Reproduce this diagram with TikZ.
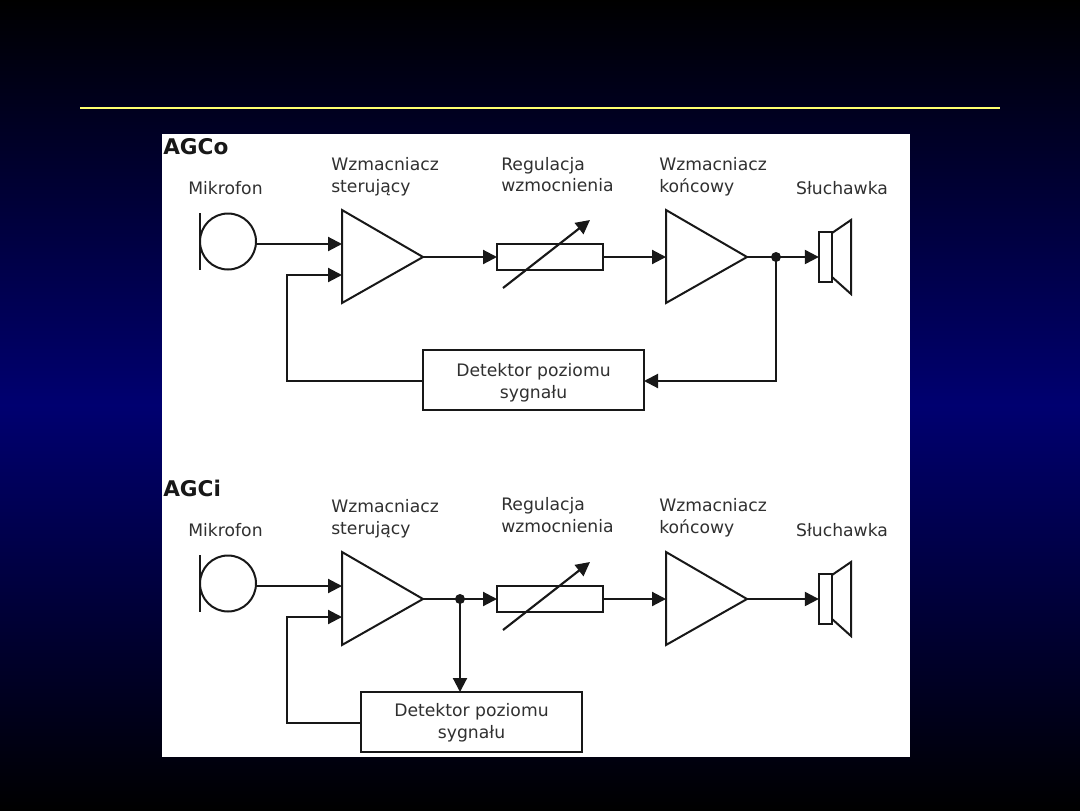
\documentclass[tikz,border=0pt]{standalone}
\usepackage{fontspec}
\setmainfont{DejaVu Sans}
\usetikzlibrary{arrows.meta}
\definecolor{ink}{HTML}{181818}
\definecolor{labelink}{HTML}{303030}
\definecolor{deepnavy}{HTML}{000070}
\definecolor{rulecolor}{HTML}{FFFF6E}
\tikzset{
  wire/.style={draw=ink,line width=1.6pt},
  feed/.style={wire,-{Triangle[length=10.5pt,width=10.5pt]}},
  part/.style={draw=ink,line width=1.5pt,fill=white,inner sep=0pt,outer sep=0pt},
  blockbox/.style={part},
  caption/.style={align=left,inner sep=0pt,anchor=west,font=\fontsize{12.9}{16.2}\selectfont,text=labelink},
  heading/.style={inner sep=0pt,anchor=west,font=\bfseries\fontsize{16.2}{18}\selectfont,text=ink},
  junction/.style={circle,fill=ink,minimum size=7.5pt,inner sep=0pt}
}
\begin{document}
\begin{tikzpicture}[x=0.75pt,y=-0.75pt]
\useasboundingbox (0,0) rectangle (1080,810);
\shade[top color=black,bottom color=black,middle color=deepnavy] (0,0) rectangle (1080,810);
\coordinate (ruleL) at (80,107.5);
\coordinate (ruleR) at (1000,107.5);
\draw[rulecolor,line width=1.5pt] (ruleL) -- (ruleR);
\fill[white] (162,134) rectangle (910,757);

% upper circuit: detector fed from the output stage
\node[heading] (headO) at (163,147) {AGCo};
\node[caption,anchor=center] (micO) at (225.5,188) {Mikrofon};
\node[caption] (preO) at (331,177) {Wzmacniacz\\sterujący};
\node[caption] (regO) at (501,174.5) {Regulacja\\wzmocnienia};
\node[caption] (endO) at (659,176.5) {Wzmacniacz\\końcowy};
\node[caption,anchor=center] (spkO) at (842,188) {Słuchawka};

\node[part,circle,minimum size=42pt] (capO) at (228,241.5) {};
\coordinate (barTopO) at (200,213);
\coordinate (barBotO) at (200,270);
\draw[wire] (barTopO) -- (barBotO);
\coordinate (ampAtopO) at (342,210);
\coordinate (ampAbotO) at (342,303);
\coordinate (ampAtipO) at (423,257);
\draw[part] (ampAtopO) -- (ampAtipO) -- (ampAbotO) -- cycle;
\coordinate (inAO) at (342,244);
\coordinate (inBO) at (342,275);
\node[part,minimum width=79.5pt,minimum height=19pt] (gainO) at (550,257) {};
\coordinate (slopeStartO) at (503,288);
\coordinate (slopeEndO) at (590,220);
\coordinate (ampBtopO) at (666,210);
\coordinate (ampBbotO) at (666,303);
\coordinate (ampBtipO) at (747,257);
\draw[part] (ampBtopO) -- (ampBtipO) -- (ampBbotO) -- cycle;
\coordinate (ampBinO) at (666,257);
\node[junction] (tapO) at (776,257) {};
\node[part,minimum width=10pt,minimum height=37.5pt] (coilO) at (825.5,257) {};
\coordinate (coneAO) at (832,233);
\coordinate (coneBO) at (851,220);
\coordinate (coneCO) at (851,294);
\coordinate (coneDO) at (832,277);
\draw[part,fill=none] (coneAO) -- (coneBO) -- (coneCO) -- (coneDO);
\node[blockbox,minimum width=165.75pt,minimum height=45pt] (detO) at (533.5,380) {};
\node[caption,anchor=center,align=center] (detTextO) at (533.5,383) {Detektor poziomu\\sygnału};
\coordinate (cornerO) at (776,381);
\coordinate (detInO) at (644,381);
\coordinate (detOutO) at (423,381);
\coordinate (backO) at (287,381);
\coordinate (backTopO) at (287,275);

\draw[feed] (capO.east |- inAO) -- (inAO);
\draw[feed] (ampAtipO) -- (gainO.west);
\draw[feed] (gainO.east) -- (ampBinO);
\draw[feed] (ampBtipO) -- (coilO.west);
\draw[feed] (tapO.center) -- (cornerO) -- (detInO);
\draw[feed] (detOutO) -- (backO) -- (backTopO) -- (inBO);
\draw[feed] (slopeStartO) -- (slopeEndO);

% lower circuit: detector fed from the preamplifier
\node[heading] (headI) at (163,488) {AGCi};
\node[caption,anchor=center] (micI) at (225.5,530) {Mikrofon};
\node[caption] (preI) at (331,519) {Wzmacniacz\\sterujący};
\node[caption] (regI) at (501,515) {Regulacja\\wzmocnienia};
\node[caption] (endI) at (659,518) {Wzmacniacz\\końcowy};
\node[caption,anchor=center] (spkI) at (842,530) {Słuchawka};

\node[part,circle,minimum size=42pt] (capI) at (228,583.5) {};
\coordinate (barTopI) at (200,555);
\coordinate (barBotI) at (200,612);
\draw[wire] (barTopI) -- (barBotI);
\coordinate (ampAtopI) at (342,552);
\coordinate (ampAbotI) at (342,645);
\coordinate (ampAtipI) at (423,599);
\draw[part] (ampAtopI) -- (ampAtipI) -- (ampAbotI) -- cycle;
\coordinate (inAI) at (342,586);
\coordinate (inBI) at (342,617);
\node[part,minimum width=79.5pt,minimum height=19pt] (gainI) at (550,599) {};
\coordinate (slopeStartI) at (503,630);
\coordinate (slopeEndI) at (590,562);
\coordinate (ampBtopI) at (666,552);
\coordinate (ampBbotI) at (666,645);
\coordinate (ampBtipI) at (747,599);
\draw[part] (ampBtopI) -- (ampBtipI) -- (ampBbotI) -- cycle;
\coordinate (ampBinI) at (666,599);
\node[junction] (tapI) at (460,599) {};
\node[part,minimum width=10pt,minimum height=37.5pt] (coilI) at (825.5,599) {};
\coordinate (coneAI) at (832,575);
\coordinate (coneBI) at (851,562);
\coordinate (coneCI) at (851,636);
\coordinate (coneDI) at (832,619);
\draw[part,fill=none] (coneAI) -- (coneBI) -- (coneCI) -- (coneDI);
\node[blockbox,minimum width=165.75pt,minimum height=45pt] (detI) at (471.5,722) {};
\node[caption,anchor=center,align=center] (detTextI) at (471.5,723) {Detektor poziomu\\sygnału};
\coordinate (detOutI) at (361,723);
\coordinate (backI) at (287,723);
\coordinate (backTopI) at (287,617);

\draw[feed] (capI.east |- inAI) -- (inAI);
\draw[feed] (ampAtipI) -- (gainI.west);
\draw[feed] (gainI.east) -- (ampBinI);
\draw[feed] (ampBtipI) -- (coilI.west);
\draw[feed] (tapI.center) -- (tapI.center |- detI.north);
\draw[feed] (detOutI) -- (backI) -- (backTopI) -- (inBI);
\draw[feed] (slopeStartI) -- (slopeEndI);
\end{tikzpicture}
\end{document}
